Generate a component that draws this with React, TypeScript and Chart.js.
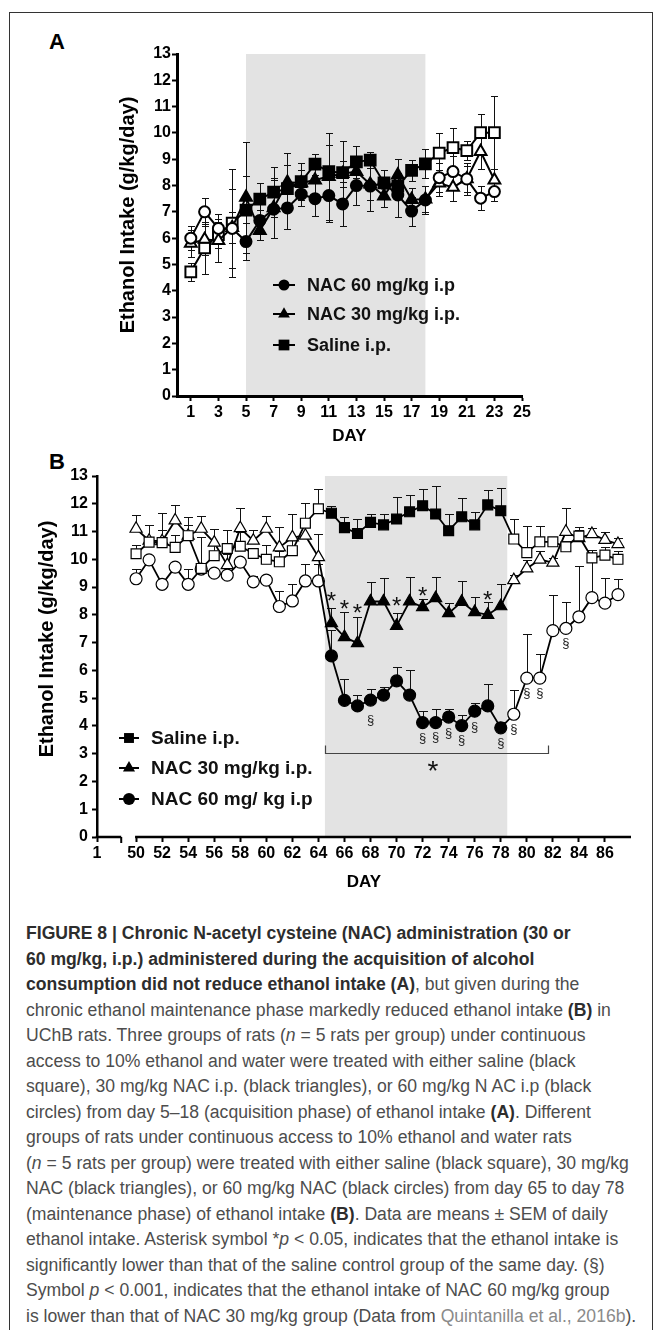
import React, { useEffect, useRef } from "react";
import { Chart, registerables } from "chart.js";

Chart.register(...registerables);

const FONT = "'Liberation Sans', Arial, Helvetica, sans-serif";

// ================= Panel A (acquisition) =================
const daysA = [1, 2, 3, 4, 5, 6, 7, 8, 9, 10, 11, 12, 13, 14, 15, 16, 17, 18, 19, 20, 21, 22, 23];
const nac60A = [6.0, 7.0, 6.37, 6.37, 5.87, 6.67, 7.1, 7.15, 7.67, 7.5, 7.62, 7.3, 8.0, 7.98, 8.08, 7.64, 7.03, 7.45, 8.3, 8.53, 8.25, 7.52, 7.77];
const nac60AErr = [0.45, 0.54, 0.55, 1.5, 0.7, 0.4, 1.1, 0.8, 0.45, 0.65, 1.0, 0.85, 0.75, 0.95, 0.5, 0.85, 0.55, 0.55, 0.55, 0.6, 0.6, 0.45, 0.35];
const nac30A = [5.8, 5.95, 5.91, 6.4, 7.55, 6.29, 7.15, 8.12, 8.1, 8.21, 8.34, 8.45, 8.53, 8.05, 7.6, 8.4, 7.47, 7.48, 8.09, 7.93, 8.25, 9.29, 8.21];
const nac30AErr = [0.5, 0.6, 0.8, 0.6, 2.1, 0.35, 1.15, 1.1, 0.5, 0.6, 1.65, 0.5, 0.6, 0.6, 0.4, 0.6, 0.45, 0.5, 0.5, 0.5, 0.5, 0.67, 0.4];
const salineA = [4.72, 5.63, 6.13, 6.57, 7.07, 7.48, 7.75, 7.88, 8.15, 8.81, 8.53, 8.49, 8.9, 8.97, 8.1, 7.98, 8.58, 8.82, 9.23, 9.44, 9.33, 10.01, 10.01];
const salineAErr = [0.35, 1.0, 0.5, 2.05, 1.3, 0.6, 0.95, 0.9, 0.7, 0.4, 1.0, 1.2, 0.6, 0.3, 0.5, 0.4, 0.4, 0.55, 0.77, 0.76, 0.35, 0.7, 1.4];
const xTicksA = [1, 3, 5, 7, 9, 11, 13, 15, 17, 19, 21, 23, 25];
const treatA = [5, 18];
const labelsA = ["NAC 60 mg/kg i.p", "NAC 30 mg/kg i.p.", "Saline i.p."];

// ================= Panel B (maintenance) =================
const daysB = [50, 51, 52, 53, 54, 55, 56, 57, 58, 59, 60, 61, 62, 63, 64, 65, 66, 67, 68, 69, 70, 71, 72, 73, 74, 75, 76, 77, 78, 79, 80, 81, 82, 83, 84, 85, 86, 87];
const salineB = [10.2, 10.62, 10.6, 10.43, 10.85, 9.67, 10.13, 10.39, 10.47, 10.21, 10.0, 9.91, 10.31, 11.3, 11.82, 11.66, 11.14, 10.93, 11.33, 11.24, 11.45, 11.71, 11.93, 11.63, 11.03, 11.53, 11.24, 11.96, 11.75, 10.73, 10.24, 10.63, 10.63, 10.45, 10.84, 10.05, 10.15, 10.0];
const salineBErr = [0.3, 0.6, 1.05, 0.45, 0.66, 1.15, 0.4, 0.66, 0.5, 0.2, 0.5, 0.4, 0.4, 0.73, 0.7, 0.26, 0.39, 0.51, 0.29, 0.38, 0.78, 0.61, 0.6, 1.0, 0.59, 0.67, 0.47, 0.53, 0.83, 0.72, 0.96, 0.57, 0.1, 0.2, 0.2, 0.3, 0.3, 0.3];
const nac30B = [11.1, 10.67, 10.65, 11.4, 10.85, 11.1, 10.6, 9.79, 11.12, 10.67, 11.1, 10.43, 10.79, 10.85, 10.08, 7.7, 7.2, 6.98, 8.48, 8.48, 7.6, 8.48, 8.28, 8.6, 8.06, 8.47, 8.1, 8.0, 8.31, 9.25, 9.67, 9.99, 9.88, 10.99, 10.76, 10.91, 10.7, 10.55];
const nac30BErr = [0.5, 0.55, 0.4, 0.56, 0.4, 0.47, 0.5, 0.4, 0.74, 0.4, 0.47, 0.72, 0.83, 0.5, 0.84, 0.55, 0.9, 0.95, 0.7, 0.85, 0.45, 0.9, 0.3, 0.75, 0.35, 0.75, 0.55, 0.45, 0.8, 0.2, 0.3, 0.3, 0.15, 0.85, 0.4, 0.2, 0.3, 0.2];
const nac60B = [9.3, 9.98, 9.1, 9.72, 9.1, 9.65, 9.5, 9.43, 9.9, 9.19, 9.25, 8.3, 8.5, 9.22, 9.22, 6.52, 4.92, 4.72, 4.93, 5.11, 5.62, 5.11, 4.12, 4.12, 4.32, 4.01, 4.53, 4.72, 3.93, 4.42, 5.72, 5.72, 7.43, 7.51, 7.93, 8.62, 8.42, 8.73];
const nac60BErr = [0.35, 0.15, 0.15, 0.15, 0.55, 0.1, 0.1, 0.1, 0.1, 0.2, 0.2, 0.55, 0.6, 0.6, 0.6, 0.95, 0.78, 0.4, 0.4, 0.3, 0.5, 0.9, 0.42, 0.48, 0.28, 0.38, 0.29, 0.8, 0.2, 0.88, 1.58, 0.88, 1.3, 0.95, 1.83, 1.45, 0.9, 0.55];
const xTicksB = [50, 52, 54, 56, 58, 60, 62, 64, 66, 68, 70, 72, 74, 76, 78, 80, 82, 84, 86];
const breakTickB = 47; // scale position where the "1" of the broken axis sits
const breakLabelB = "1";
const breakEndB = 48.86;
const treatB = [65, 78];
const shadeB = [64.5, 78.5];
const labelsB = ["Saline i.p.", "NAC 30 mg/kg i.p.", "NAC 60 mg/ kg i.p"];
const starDaysB = [65, 66, 67, 70, 72, 77];
const starValsB = [8.71, 8.41, 8.27, 8.53, 8.89, 8.74];
const sectDaysB = [68, 72, 73, 74, 75, 76, 78, 79, 80, 81, 83];
const sectValsB = [4.21, 3.55, 3.61, 3.73, 3.49, 3.97, 3.38, 3.89, 5.19, 5.19, 6.99];
const bracketB = [64.5, 81.6];
const bracketValB = 3.02;
const bracketStarB = [72.8, 2.62];

const yTicks = [0, 1, 2, 3, 4, 5, 6, 7, 8, 9, 10, 11, 12, 13];
const yTitle = "Ethanol Intake (g/kg/day)";
const xTitle = "DAY";

// ================= plugins =================
const shadePlugin = {
  id: "shade",
  beforeDraw(chart: any, _a: any, o: any) {
    const { ctx, scales } = chart;
    const x = scales.x, y = scales.y;
    const x0 = x.getPixelForValue(o.from), x1 = x.getPixelForValue(o.to);
    const y0 = y.getPixelForValue(y.max), y1 = y.getPixelForValue(0);
    ctx.save();
    ctx.fillStyle = o.color;
    ctx.fillRect(x0, y0, x1 - x0, y1 - y0);
    ctx.restore();
  },
};

const errorBarPlugin = {
  id: "errorBars",
  beforeDatasetsDraw(chart: any, _a: any, o: any) {
    const { ctx } = chart;
    const y = chart.scales.y;
    ctx.save();
    ctx.strokeStyle = "#111";
    ctx.lineWidth = o.lineWidth;
    chart.data.datasets.forEach((ds: any, di: number) => {
      const meta = chart.getDatasetMeta(di);
      (ds.err || []).forEach((e: number, i: number) => {
        const p = meta.data[i];
        if (!p) return;
        const v = ds.data[i].y;
        const px = Math.round(p.x) + 0.5;
        const top = Math.round(y.getPixelForValue(v + e)) + 0.5;
        const bot = o.both ? Math.round(y.getPixelForValue(v - e)) + 0.5 : p.y;
        const hw = o.cap / 2;
        ctx.beginPath();
        ctx.moveTo(px, bot);
        ctx.lineTo(px, top);
        ctx.moveTo(px - hw, top);
        ctx.lineTo(px + hw, top);
        if (o.both) {
          ctx.moveTo(px - hw, bot);
          ctx.lineTo(px + hw, bot);
        }
        ctx.stroke();
      });
    });
    ctx.restore();
  },
};

function drawMarker(ctx: CanvasRenderingContext2D, style: string, x: number, y: number, r: number) {
  ctx.beginPath();
  if (style === "circle") {
    ctx.arc(x, y, r, 0, Math.PI * 2);
  } else if (style === "rect") {
    const s = Math.SQRT1_2 * r;
    ctx.rect(x - s, y - s, 2 * s, 2 * s);
  } else {
    let rad = 0;
    ctx.moveTo(x + Math.sin(rad) * r, y - Math.cos(rad) * r);
    rad += (2 * Math.PI) / 3;
    ctx.lineTo(x + Math.sin(rad) * r, y - Math.cos(rad) * r);
    rad += (2 * Math.PI) / 3;
    ctx.lineTo(x + Math.sin(rad) * r, y - Math.cos(rad) * r);
    ctx.closePath();
  }
  ctx.fillStyle = "#000";
  ctx.fill();
}

const markerLegendPlugin = {
  id: "markerLegend",
  afterDraw(chart: any, _a: any, o: any) {
    const { ctx } = chart;
    o.order.forEach((di: number, k: number) => {
      const ds = chart.data.datasets[di];
      const cy = o.ys[k];
      ctx.save();
      ctx.strokeStyle = "#000";
      ctx.lineWidth = o.lineWidth;
      ctx.beginPath();
      ctx.moveTo(o.x0, cy);
      ctx.lineTo(o.x1, cy);
      ctx.stroke();
      drawMarker(ctx, ds.pointStyle, (o.x0 + o.x1) / 2, cy, ds.pointRadius);
      ctx.fillStyle = "#111";
      ctx.font = o.font;
      ctx.textAlign = "left";
      ctx.textBaseline = "middle";
      ctx.fillText(ds.label, o.textX, cy + 1);
      ctx.restore();
    });
  },
};

const axisTitlePlugin = {
  id: "axisTitle",
  afterDraw(chart: any, _a: any, o: any) {
    const { ctx } = chart;
    ctx.save();
    ctx.translate(o.x, o.y);
    ctx.rotate(-Math.PI / 2);
    ctx.font = o.font;
    ctx.fillStyle = "#000";
    ctx.textAlign = "center";
    ctx.textBaseline = "middle";
    ctx.fillText(yTitle, 0, 0);
    ctx.restore();
  },
};

const annotPlugin = {
  id: "annot",
  afterDatasetsDraw(chart: any, _a: any, o: any) {
    const { ctx, scales } = chart;
    const x = scales.x, y = scales.y;
    ctx.save();
    ctx.fillStyle = "#111";
    ctx.textAlign = "center";
    ctx.textBaseline = "alphabetic";
    ctx.font = `normal ${o.starSize}px ${FONT}`;
    starDaysB.forEach((d, i) => {
      ctx.fillText("*", x.getPixelForValue(d), y.getPixelForValue(starValsB[i]) + 0.58 * o.starSize);
    });
    ctx.font = `normal ${o.sectSize}px ${FONT}`;
    ctx.fillStyle = "#222";
    sectDaysB.forEach((d, i) => {
      ctx.fillText("\u00a7", x.getPixelForValue(d), y.getPixelForValue(sectValsB[i]) + 0.3 * o.sectSize);
    });
    // bracket
    const bx0 = Math.round(x.getPixelForValue(bracketB[0])) + 0.5;
    const bx1 = Math.round(x.getPixelForValue(bracketB[1])) + 0.5;
    const by = Math.round(y.getPixelForValue(bracketValB)) + 0.5;
    ctx.strokeStyle = "#444";
    ctx.lineWidth = 1.2;
    ctx.beginPath();
    ctx.moveTo(bx0, by - 8);
    ctx.lineTo(bx0, by);
    ctx.lineTo(bx1, by);
    ctx.lineTo(bx1, by - 8);
    ctx.stroke();
    ctx.fillStyle = "#111";
    ctx.font = `normal ${o.bigStar}px ${FONT}`;
    ctx.fillText("*", x.getPixelForValue(bracketStarB[0]), y.getPixelForValue(bracketStarB[1]) + 0.58 * o.bigStar);
    ctx.restore();
  },
};

const brokenAxisPlugin = {
  id: "brokenAxis",
  afterDraw(chart: any, _a: any, o: any) {
    const { ctx, scales, chartArea } = chart;
    const x = scales.x;
    const yy = chartArea.bottom;
    ctx.save();
    ctx.strokeStyle = "#000";
    ctx.lineWidth = o.width;
    ctx.beginPath();
    ctx.moveTo(x.getPixelForValue(x.min) - o.width / 2, yy);
    ctx.lineTo(x.getPixelForValue(breakEndB), yy);
    ctx.moveTo(x.getPixelForValue(xTicksB[0]) - 1, yy);
    ctx.lineTo(x.getPixelForValue(x.max), yy);
    ctx.stroke();
    ctx.lineWidth = 2;
    ctx.beginPath();
    const bx = x.getPixelForValue(breakEndB);
    ctx.moveTo(bx, yy);
    ctx.lineTo(bx, yy + 6);
    ctx.stroke();
    ctx.restore();
  },
};

// ================= helpers =================
function lineDataset(label: string, days: number[], values: number[], err: number[], style: string, radius: number, treat: number[], lineW: number, pbw: number) {
  return {
    label,
    data: days.map((d, i) => ({ x: d, y: values[i] })),
    err,
    borderColor: "#000",
    borderWidth: lineW,
    pointStyle: style,
    pointRadius: radius,
    pointHoverRadius: radius,
    pointBorderColor: "#000",
    pointBorderWidth: pbw,
    pointBackgroundColor: (c: any) => (c.raw && c.raw.x >= treat[0] && c.raw.x <= treat[1] ? "#000" : "#fff"),
    tension: 0,
    fill: false,
  };
}

function yScale(width: number, tickPad: number, borderW: number) {
  return {
    type: "linear",
    min: 0,
    max: 13,
    afterBuildTicks: (s: any) => {
      s.ticks = yTicks.map((v) => ({ value: v }));
    },
    afterFit: (s: any) => {
      s.width = width;
    },
    ticks: { color: "#000", font: { size: 16, weight: "bold", family: FONT }, padding: tickPad, autoSkip: false },
    grid: { display: true, drawOnChartArea: false, drawTicks: true, tickLength: 5, tickWidth: 2, tickColor: "#000", color: "#000" },
    border: { display: true, color: "#000", width: borderW },
    title: { display: false },
  };
}

function ChartCanvas({ config, left, top, width, height }: any) {
  const ref = useRef<HTMLCanvasElement>(null);
  useEffect(() => {
    const chart = new Chart(ref.current as HTMLCanvasElement, config);
    return () => chart.destroy();
  }, []);
  return (
    <canvas
      ref={ref}
      width={width}
      height={height}
      style={{ position: "absolute", left, top, width, height }}
    />
  );
}

const configA: any = {
  type: "line",
  data: {
    datasets: [
      lineDataset(labelsA[0], daysA, nac60A, nac60AErr, "circle", 5.5, treatA, 2, 2),
      lineDataset(labelsA[1], daysA, nac30A, nac30AErr, "triangle", 6.8, treatA, 2, 2),
      lineDataset(labelsA[2], daysA, salineA, salineAErr, "rect", 7.6, treatA, 2, 2),
    ],
  },
  plugins: [shadePlugin, errorBarPlugin, markerLegendPlugin, axisTitlePlugin],
  options: {
    responsive: false,
    animation: false,
    devicePixelRatio: 1,
    events: [],
    layout: { padding: { left: 108, right: 78, top: 54, bottom: 0 } },
    plugins: {
      legend: { display: false },
      tooltip: { enabled: false },
      shade: { from: treatA[0], to: treatA[1], color: "#e3e3e3" },
      errorBars: { both: true, cap: 7, lineWidth: 1 },
      markerLegend: { order: [0, 1, 2], ys: [285, 314, 345], x0: 273, x1: 295, textX: 307, lineWidth: 2, font: `bold 18px ${FONT}` },
      axisTitle: { x: 128, y: 215, font: `bold 20px ${FONT}` },
    },
    scales: {
      x: {
        type: "linear",
        min: 0,
        max: 25,
        afterBuildTicks: (s: any) => {
          s.ticks = xTicksA.map((v) => ({ value: v }));
        },
        afterFit: (s: any) => {
          s.height = 54;
        },
        ticks: { color: "#000", font: { size: 16, weight: "bold", family: FONT }, padding: 2, autoSkip: false, maxRotation: 0 },
        grid: { display: true, drawOnChartArea: false, drawTicks: true, tickLength: 5, tickWidth: 2, tickColor: "#000", color: "#000" },
        border: { display: true, color: "#000", width: 3 },
        title: { display: true, text: xTitle, color: "#000", font: { size: 17, weight: "bold", family: FONT }, padding: { top: 0, bottom: 3 } },
      },
      y: yScale(69, 1, 3),
    },
  },
};

const configB: any = {
  type: "line",
  data: {
    datasets: [
      lineDataset(labelsB[0], daysB, salineB, salineBErr, "rect", 7, treatB, 1.8, 1.2),
      lineDataset(labelsB[1], daysB, nac30B, nac30BErr, "triangle", 7, treatB, 1.8, 1.2),
      lineDataset(labelsB[2], daysB, nac60B, nac60BErr, "circle", 6, treatB, 1.8, 1.2),
    ],
  },
  plugins: [shadePlugin, errorBarPlugin, markerLegendPlugin, annotPlugin, brokenAxisPlugin, axisTitlePlugin],
  options: {
    responsive: false,
    animation: false,
    devicePixelRatio: 1,
    events: [],
    layout: { padding: { left: 30, right: 29, top: 26, bottom: 0 } },
    plugins: {
      legend: { display: false },
      tooltip: { enabled: false },
      shade: { from: shadeB[0], to: shadeB[1], color: "#e3e3e3" },
      errorBars: { both: false, cap: 9, lineWidth: 1 },
      markerLegend: { order: [0, 1, 2], ys: [288, 318, 349], x0: 119, x1: 139, textX: 151, lineWidth: 2, font: `bold 19px ${FONT}` },
      annot: { starSize: 24, sectSize: 13, bigStar: 28 },
      brokenAxis: { width: 2.5 },
      axisTitle: { x: 47, y: 189, font: `bold 20px ${FONT}` },
    },
    scales: {
      x: {
        type: "linear",
        min: breakTickB,
        max: 88,
        afterBuildTicks: (s: any) => {
          s.ticks = [breakTickB, ...xTicksB].map((v) => ({ value: v }));
        },
        afterFit: (s: any) => {
          s.height = 73;
        },
        ticks: {
          color: "#000",
          font: { size: 16, weight: "bold", family: FONT },
          padding: 1.5,
          autoSkip: false,
          maxRotation: 0,
          callback: (v: number) => (v === breakTickB ? breakLabelB : String(v)),
        },
        grid: { display: true, drawOnChartArea: false, drawTicks: true, tickLength: 5, tickWidth: 2, tickColor: "#000", color: "#000" },
        border: { display: false },
        title: { display: true, text: xTitle, color: "#000", font: { size: 17, weight: "bold", family: FONT }, padding: { top: 0, bottom: 17 } },
      },
      y: yScale(67, 4, 2.5),
    },
  },
};

const regular = { color: "#4d4d4d" };
const bold = { fontWeight: "bold" as const, color: "#2d2d2d" };

export default function App() {
  return (
    <div style={{ position: "absolute", left: 0, top: 0, width: 660, height: 1330, overflow: "hidden", background: "#fff", fontFamily: FONT }}>
      <div style={{ position: "absolute", left: 9, top: 12, width: 642, height: 1340, border: "1px solid #333" }} />
      <div style={{ position: "absolute", left: 49, top: 31, fontSize: 22, lineHeight: "22px", fontWeight: "bold", color: "#000" }}>A</div>
      <div style={{ position: "absolute", left: 49, top: 451, fontSize: 22, lineHeight: "22px", fontWeight: "bold", color: "#000" }}>B</div>
      <ChartCanvas config={configA} left={0} top={0} width={600} height={450} />
      <ChartCanvas config={configB} left={0} top={450} width={660} height={460} />
      <div style={{ position: "absolute", left: 26, top: 921, fontSize: 17.6, lineHeight: "25.5px", whiteSpace: "nowrap", ...regular }}>
        <div style={bold}>FIGURE 8 | Chronic N-acetyl cysteine (NAC) administration (30 or</div>
        <div style={bold}>60 mg/kg, i.p.) administered during the acquisition of alcohol</div>
        <div><span style={bold}>consumption did not reduce ethanol intake (A)</span>, but given during the</div>
        <div>chronic ethanol maintenance phase markedly reduced ethanol intake <span style={bold}>(B)</span> in</div>
        <div>UChB rats. Three groups of rats (<i>n</i> = 5 rats per group) under continuous</div>
        <div>access to 10% ethanol and water were treated with either saline (black</div>
        <div>square), 30 mg/kg NAC i.p. (black triangles), or 60 mg/kg N AC i.p (black</div>
        <div>circles) from day 5–18 (acquisition phase) of ethanol intake <span style={bold}>(A)</span>. Different</div>
        <div>groups of rats under continuous access to 10% ethanol and water rats</div>
        <div>(<i>n</i> = 5 rats per group) were treated with either saline (black square), 30 mg/kg</div>
        <div>NAC (black triangles), or 60 mg/kg NAC (black circles) from day 65 to day 78</div>
        <div>(maintenance phase) of ethanol intake <span style={bold}>(B)</span>. Data are means ± SEM of daily</div>
        <div>ethanol intake. Asterisk symbol *<i>p</i> &lt; 0.05, indicates that the ethanol intake is</div>
        <div>significantly lower than that of the saline control group of the same day. (§)</div>
        <div>Symbol <i>p</i> &lt; 0.001, indicates that the ethanol intake of NAC 60 mg/kg group</div>
        <div>is lower than that of NAC 30 mg/kg group (Data from <span style={{ color: "#8a8a8a" }}>Quintanilla et al., 2016b</span>).</div>
      </div>
    </div>
  );
}
